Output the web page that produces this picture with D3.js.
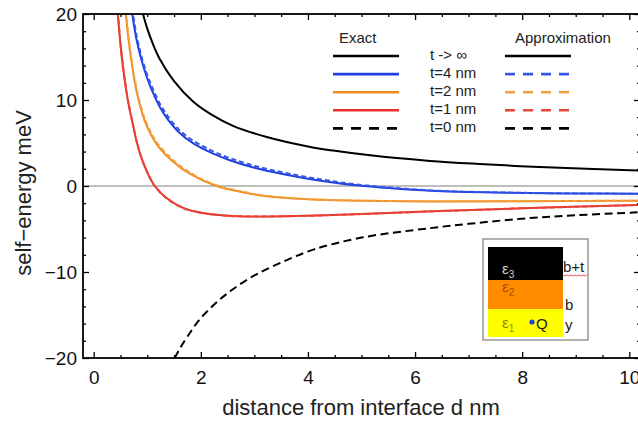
<!DOCTYPE html>
<html><head><meta charset="utf-8">
<script src="https://cdn.jsdelivr.net/npm/d3@7"></script>
<style>
html,body{margin:0;padding:0;background:#fff;}
svg{display:block;}
text{font-family:"Liberation Sans",Arial,sans-serif;}
</style></head>
<body>
<svg id="chart" width="638" height="421"></svg>
<script>
// ---------- data ----------
const xTicks = [0, 2, 4, 6, 8, 10];
const yTicks = [-20, -10, 0, 10, 20];

// t -> infinity (exact and approximation coincide)
const tInfD = [0.92, 1.0, 1.1, 1.23, 1.5, 1.86, 2.2, 2.6, 3.23, 4.0, 4.47, 5.2, 6.28, 7.2, 8.2, 9.2, 10.2];
const tInfE = [20, 18.3, 16.6, 14.8, 12.2, 9.8, 8.3, 7.0, 5.7, 4.6, 4.12, 3.54, 2.92, 2.56, 2.24, 2.0, 1.8];

// t = 4 nm
const t4D = [0.72, 0.8, 0.89, 1.0, 1.11, 1.25, 1.39, 1.6, 1.86, 2.2, 2.54, 3.0, 3.5, 4.0, 4.5, 5.0, 5.5, 6.3, 7.5, 8.8, 10.2];
const t4Exact = [20, 17.0, 14.7, 12.5, 10.8, 9.0, 7.7, 6.2, 4.95, 3.85, 3.0, 2.12, 1.42, 0.85, 0.38, 0.02, -0.24, -0.55, -0.76, -0.86, -0.9];
const t4Approx = [20.6, 17.5, 15.1, 12.9, 11.2, 9.4, 8.05, 6.5, 5.25, 4.12, 3.25, 2.35, 1.62, 1.02, 0.52, 0.12, -0.17, -0.51, -0.74, -0.85, -0.9];

// t = 2 nm
const t2D = [0.6, 0.65, 0.7, 0.8, 0.95, 1.1, 1.2, 1.45, 1.8, 2.29, 2.8, 3.23, 4.0, 5.0, 6.3, 8.0, 10.2];
const t2Exact = [20, 17.0, 14.7, 11.0, 7.6, 5.6, 4.65, 3.0, 1.4, 0.0, -0.75, -1.2, -1.55, -1.72, -1.8, -1.78, -1.7];
const t2Approx = [20.4, 17.3, 15.0, 11.3, 7.9, 5.85, 4.88, 3.2, 1.55, 0.1, -0.68, -1.15, -1.52, -1.7, -1.78, -1.77, -1.7];

// t = 1 nm
const t1D = [0.45, 0.48, 0.52, 0.6, 0.66, 0.73, 0.8, 0.89, 1.0, 1.14, 1.36, 1.67, 2.0, 2.5, 3.0, 4.0, 5.0, 6.3, 8.0, 10.2];
const t1Exact = [20, 17.8, 15.2, 11.4, 9.2, 7.2, 5.2, 3.3, 1.6, 0.0, -1.4, -2.55, -3.1, -3.45, -3.55, -3.45, -3.25, -2.95, -2.6, -2.2];
const t1Approx = [20.3, 18.0, 15.4, 11.5, 9.3, 7.25, 5.25, 3.3, 1.6, 0.0, -1.42, -2.57, -3.12, -3.47, -3.56, -3.46, -3.26, -2.96, -2.6, -2.2];

// t = 0 nm
const t0D = [1.51, 1.6, 1.75, 1.98, 2.3, 2.6, 3.0, 3.5, 4.1, 5.0, 6.28, 7.0, 8.0, 9.0, 10.2];
const t0E = [-20, -19.0, -17.5, -15.5, -13.5, -12.0, -10.4, -8.9, -7.4, -6.0, -4.9, -4.4, -3.8, -3.4, -3.05];

const legendLabels = ["t -> \u221E", "t=4 nm", "t=2 nm", "t=1 nm", "t=0 nm"];
const seriesColors = ["#000000", "#1f3fe0", "#f08c1e", "#e8322a", "#000000"];
const approxColors = ["#000000", "#3556e6", "#f4a040", "#e8463a", "#000000"];

// ---------- chart ----------
const svg = d3.select("#chart");
const L = 83, R = 640, T = 14, B = 358;
const x = d3.scaleLinear().domain([-0.2, 10.2]).range([L, R]);
const y = d3.scaleLinear().domain([-20, 20]).range([B, T]);

svg.append("defs").append("clipPath").attr("id", "plotclip")
  .append("rect").attr("x", L).attr("y", T).attr("width", R - L).attr("height", B - T);

// zero line
svg.append("line").attr("x1", L).attr("x2", R).attr("y1", y(0)).attr("y2", y(0))
  .attr("stroke", "#a8a8a8").attr("stroke-width", 1.6);

const line = d3.line().x(d => x(d[0])).y(d => y(d[1])).curve(d3.curveCatmullRom.alpha(0.5));
const pts = (ds, es) => ds.map((d, i) => [d, es[i]]);

const g = svg.append("g").attr("clip-path", "url(#plotclip)");

// exact solid curves
[[tInfD, tInfE, 0], [t4D, t4Exact, 1], [t2D, t2Exact, 2], [t1D, t1Exact, 3]].forEach(([ds, es, k]) => {
  g.append("path").attr("d", line(pts(ds, es))).attr("fill", "none")
    .attr("stroke", seriesColors[k]).attr("stroke-width", 2);
});
// approximation dashed curves
[[t4D, t4Approx, 1], [t2D, t2Approx, 2], [t1D, t1Approx, 3]].forEach(([ds, es, k]) => {
  g.append("path").attr("d", line(pts(ds, es))).attr("fill", "none")
    .attr("stroke", approxColors[k]).attr("stroke-width", 2).attr("stroke-dasharray", "5,3");
});
// t = 0 dashed black
g.append("path").attr("d", line(pts(t0D, t0E))).attr("fill", "none")
  .attr("stroke", "#000").attr("stroke-width", 2).attr("stroke-dasharray", "8,4.5");

// ---------- axes / frame ----------
const minorX = d3.range(0, 10.01, 0.5).filter(v => v % 2 !== 0);
const minorY = d3.range(-20, 20.01, 2).filter(v => v % 10 !== 0);

function styleAxis(sel) {
  sel.select(".domain").remove();
  sel.selectAll("line").attr("stroke", "#000").attr("stroke-width", 1.3);
  sel.selectAll("text").attr("font-size", 19).attr("fill", "#111");
}
svg.append("g").attr("transform", `translate(0,${B})`)
  .call(d3.axisBottom(x).tickValues(xTicks).tickSize(-6).tickPadding(13).tickFormat(d3.format("d"))).call(styleAxis);
svg.append("g").attr("transform", `translate(0,${B})`)
  .call(d3.axisBottom(x).tickValues(minorX).tickSize(-3).tickFormat("")).call(styleAxis);
svg.append("g").attr("transform", `translate(0,${T})`)
  .call(d3.axisTop(x).tickValues(xTicks).tickSize(-6).tickFormat("")).call(styleAxis);
svg.append("g").attr("transform", `translate(0,${T})`)
  .call(d3.axisTop(x).tickValues(minorX).tickSize(-3).tickFormat("")).call(styleAxis);
svg.append("g").attr("transform", `translate(${L},0)`)
  .call(d3.axisLeft(y).tickValues(yTicks).tickSize(-6).tickPadding(6).tickFormat(d3.format("d"))).call(styleAxis);
svg.append("g").attr("transform", `translate(${L},0)`)
  .call(d3.axisLeft(y).tickValues(minorY).tickSize(-3).tickFormat("")).call(styleAxis);
svg.append("g").attr("transform", `translate(${R},0)`)
  .call(d3.axisRight(y).tickValues(yTicks).tickSize(-6).tickFormat("")).call(styleAxis);
svg.append("g").attr("transform", `translate(${R},0)`)
  .call(d3.axisRight(y).tickValues(minorY).tickSize(-3).tickFormat("")).call(styleAxis);

svg.append("rect").attr("x", L).attr("y", T).attr("width", R - L).attr("height", B - T)
  .attr("fill", "none").attr("stroke", "#000").attr("stroke-width", 1.8);

// axis titles
svg.append("text").attr("x", 361).attr("y", 415).attr("text-anchor", "middle")
  .attr("font-size", 22).attr("fill", "#222").text("distance from interface d nm");
svg.append("text").attr("transform", "translate(31,193) rotate(-90)").attr("text-anchor", "middle")
  .attr("font-size", 22).attr("fill", "#222").text("self\u2212energy meV");

// ---------- legend ----------
const lg = svg.append("g").attr("font-size", 15).attr("fill", "#222");
lg.append("text").attr("x", 339).attr("y", 43).text("Exact");
lg.append("text").attr("x", 515).attr("y", 43).text("Approximation");
legendLabels.forEach((lab, i) => {
  const yy = 56 + 18.1 * i;
  lg.append("line").attr("x1", 333).attr("x2", 399).attr("y1", yy).attr("y2", yy)
    .attr("stroke", seriesColors[i]).attr("stroke-width", 2.6)
    .attr("stroke-dasharray", i === 4 ? "10,8" : null);
  lg.append("line").attr("x1", 505).attr("x2", 571).attr("y1", yy).attr("y2", yy)
    .attr("stroke", approxColors[i]).attr("stroke-width", 2.6)
    .attr("stroke-dasharray", i === 0 ? null : "10,8");
  lg.append("text").attr("x", 430).attr("y", yy + 4).text(lab);
});

// ---------- inset (layer sketch) ----------
const ins = svg.append("g");
ins.append("rect").attr("x", 483).attr("y", 239).attr("width", 105).attr("height", 101)
  .attr("fill", "#fff").attr("stroke", "#888").attr("stroke-width", 1.3);
ins.append("rect").attr("x", 488).attr("y", 247).attr("width", 75).attr("height", 33).attr("fill", "#000");
ins.append("rect").attr("x", 488).attr("y", 280).attr("width", 75).attr("height", 29).attr("fill", "#ff8c00");
ins.append("rect").attr("x", 488).attr("y", 309).attr("width", 75).attr("height", 28).attr("fill", "#ffff00");
function eps(xx, yy, sub, col) {
  const t = ins.append("text").attr("x", xx).attr("y", yy).attr("font-size", 15).attr("fill", col)
    .attr("font-family", "'DejaVu Serif', serif");
  t.append("tspan").text("\u03B5");
  t.append("tspan").attr("font-size", 10).attr("dy", 4).text(sub);
}
eps(502, 274, "3", "#d0d0d0");
eps(502, 292, "2", "#a84a00");
eps(502, 328, "1", "#8a8a00");
ins.append("circle").attr("cx", 532).attr("cy", 322).attr("r", 2.6).attr("fill", "#2040e0");
ins.append("text").attr("x", 536).attr("y", 329).attr("font-size", 15).attr("fill", "#222").text("Q");
ins.append("text").attr("x", 563).attr("y", 272).attr("font-size", 15).attr("fill", "#222").text("b+t");
const wavy = d3.range(563, 588, 2).map((v, i) => (i ? "L" : "M") + v + "," + (275 + (i % 2))).join("");
ins.append("path").attr("d", wavy)
  .attr("fill", "none").attr("stroke", "#e03030").attr("stroke-width", 0.8);
ins.append("text").attr("x", 565).attr("y", 310).attr("font-size", 15).attr("fill", "#222").text("b");
ins.append("text").attr("x", 565).attr("y", 330).attr("font-size", 15).attr("fill", "#222").text("y");
</script>
</body></html>
